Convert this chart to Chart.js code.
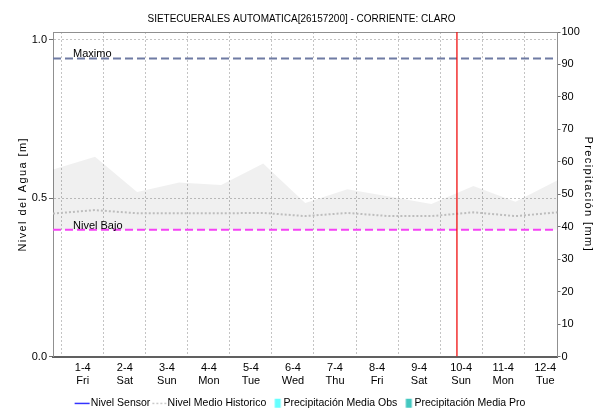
<!DOCTYPE html>
<html><head><meta charset="utf-8">
<script src="https://cdn.jsdelivr.net/npm/chart.js@4.4.1/dist/chart.umd.min.js"></script>
<style>html,body{margin:0;padding:0;background:#fff;overflow:hidden}#wrap{width:603px;height:412px;position:relative}</style>
</head><body><div id="wrap"><canvas id="c" width="603" height="412"></canvas></div>
<script>
// ---------- data ----------
const chartTitle = 'SIETECUERALES AUTOMATICA[26157200] - CORRIENTE: CLARO';
const dayTicks = [0, 1, 2, 3, 4, 5, 6, 7, 8, 9, 10, 11];           // days since 1-4 00:00
const dayLabels = ['1-4', '2-4', '3-4', '4-4', '5-4', '6-4', '7-4', '8-4', '9-4', '10-4', '11-4', '12-4'];
const weekdayLabels = ['Fri', 'Sat', 'Sun', 'Mon', 'Tue', 'Wed', 'Thu', 'Fri', 'Sat', 'Sun', 'Mon', 'Tue'];
const xStart = -0.708;   // 31-3 07:00
const xEnd = 11.292;     // 12-4 07:00
const sampleDays = [-0.708, 0.292, 1.292, 2.292, 3.292, 4.292, 5.292, 6.292, 7.292, 8.292, 9.292, 10.292, 11.292];
const bandUpper = [0.590, 0.630, 0.519, 0.549, 0.541, 0.609, 0.484, 0.528, 0.505, 0.481, 0.538, 0.488, 0.556];
const bandLower = [0.400, 0.400, 0.400, 0.400, 0.400, 0.400, 0.400, 0.400, 0.400, 0.400, 0.400, 0.400, 0.400];
const nivelMedio = [0.451, 0.462, 0.452, 0.452, 0.452, 0.453, 0.443, 0.453, 0.443, 0.443, 0.455, 0.443, 0.455];
const nivelSensor = [];
const precipObs = [];
const precipPro = [];
const nivelMaximo = 0.94;
const nivelBajo = 0.40;
const nowDay = 8.9;
const yLeftMax = 1.024;
const yLeftTicks = [0, 0.5, 1.0];
const yRightMax = 100;
const yRightTicks = [0, 10, 20, 30, 40, 50, 60, 70, 80, 90, 100];
const legendLabels = ['Nivel Sensor', 'Nivel Medio Historico', 'Precipitación Media Obs', 'Precipitación Media Pro'];
const thresholdLabels = ['Maximo', 'Nivel Bajo'];

const FONT = "'Liberation Sans', Arial, Helvetica, sans-serif";
Chart.defaults.font.family = FONT;
Chart.defaults.font.size = 11;
Chart.defaults.color = '#000';

// axis titles in the reference are letter-spaced
const origDrawTitle = Chart.LinearScale.prototype.drawTitle;
Chart.LinearScale.prototype.drawTitle = function () {
  const ctx = this.ctx;
  ctx.save();
  try { ctx.letterSpacing = '1.4px'; } catch (e) {}
  origDrawTitle.apply(this, arguments);
  ctx.restore();
};

const pts = (xs, ys) => xs.map((x, i) => ({x: x, y: ys[i]}));

// legend marks
function mark(kind, color) {
  const c = document.createElement('canvas');
  c.width = 34; c.height = 11;
  const g = c.getContext('2d');
  g.fillStyle = color;
  if (kind === 'line') g.fillRect(10, 5, 15, 1.2);
  else if (kind === 'dots') { [11, 15, 19, 23].forEach(x => g.fillRect(x, 5, 2, 1.2)); }
  else g.fillRect(17.5, 1, 6, 9);
  return c;
}
const legendMarks = [mark('line', '#0000ff'), mark('dots', '#bdbdbd'), mark('rect', '#66ffff'), mark('rect', '#44c8c0')];

const labelPlugin = {
  id: 'thresholdLabels',
  afterDatasetsDraw(chart) {
    const {ctx, chartArea, scales} = chart;
    ctx.save();
    ctx.font = '11px ' + FONT;
    ctx.fillStyle = '#000';
    ctx.textBaseline = 'middle';
    ctx.textAlign = 'left';
    ctx.fillText(thresholdLabels[0], chartArea.left + 20, scales.y.getPixelForValue(nivelMaximo) - 5);
    ctx.fillText(thresholdLabels[1], chartArea.left + 20, scales.y.getPixelForValue(nivelBajo) - 4);
    ctx.restore();
  }
};

new Chart(document.getElementById('c'), {
  type: 'line',
  data: {
    datasets: [
      {label: 'lower', data: pts(sampleDays, bandLower), borderWidth: 0, pointRadius: 0, fill: false, order: 10},
      {label: 'upper', data: pts(sampleDays, bandUpper), borderWidth: 0, pointRadius: 0, fill: '-1', backgroundColor: 'rgba(0,0,0,0.06)', order: 9},
      {label: legendLabels[1], data: pts(sampleDays, nivelMedio), borderColor: '#bdbdbd', borderWidth: 2, borderDash: [2, 2], pointRadius: 0, fill: false, order: 8},
      {label: 'Maximo', data: [{x: xStart, y: nivelMaximo}, {x: xEnd, y: nivelMaximo}], borderColor: '#6f7ba3', borderWidth: 2, borderDash: [8, 4], pointRadius: 0, order: 5},
      {label: 'Nivel Bajo', data: [{x: xStart, y: nivelBajo}, {x: xEnd, y: nivelBajo}], borderColor: '#f542f5', borderWidth: 2, borderDash: [8, 4], pointRadius: 0, order: 5},
      {label: 'now', data: [{x: nowDay, y: 0}, {x: nowDay, y: yLeftMax}], borderColor: '#f01010', borderWidth: 1.3, pointRadius: 0, order: 1},
      {label: legendLabels[0], data: nivelSensor, borderColor: '#0000ff', borderWidth: 1, pointRadius: 0, order: 2},
      {type: 'bar', label: legendLabels[2], data: precipObs, backgroundColor: '#66ffff', yAxisID: 'y1', order: 3},
      {type: 'bar', label: legendLabels[3], data: precipPro, backgroundColor: '#44c8c0', yAxisID: 'y1', order: 3}
    ]
  },
  options: {
    responsive: false,
    animation: false,
    devicePixelRatio: 1,
    layout: {padding: {top: 0, left: 0, right: 0, bottom: -6.5}},
    plugins: {
      title: {display: true, text: chartTitle, font: {size: 10, weight: 'normal'}, color: '#000', padding: {top: 12.8, bottom: 7.2}},
      tooltip: {enabled: false},
      legend: {
        display: true, position: 'bottom',
        labels: {
          usePointStyle: true, pointStyleWidth: 8, boxHeight: 11, padding: 4,
          font: {size: 10.5}, color: '#000',
          generateLabels: () => legendLabels.map((t, i) => ({
            text: t, pointStyle: legendMarks[i], fillStyle: 'rgba(0,0,0,0)', strokeStyle: 'rgba(0,0,0,0)', lineWidth: 0, hidden: false,
            datasetIndex: [6, 2, 7, 8][i], fontColor: '#000'
          }))
        }
      }
    },
    scales: {
      x: {
        type: 'linear', position: 'bottom', min: xStart, max: xEnd, offset: false,
        afterBuildTicks: s => { s.ticks = dayTicks.map(v => ({value: v})); },
        afterFit: s => { s.height = 37.5; },
        ticks: {padding: 5, maxRotation: 0, autoSkip: false, font: {size: 11}, color: '#000',
          callback: v => { const i = dayTicks.indexOf(v); return i < 0 ? '' : [dayLabels[i], weekdayLabels[i]]; }},
        grid: {color: '#c4c4c4', drawTicks: false, lineWidth: 1},
        border: {color: '#606060', width: 2, dash: [2, 2]}
      },
      x2: {
        type: 'linear', position: 'top', min: xStart, max: xEnd, offset: false,
        ticks: {display: false}, grid: {display: false, drawTicks: false},
        afterFit: s => { s.height = 0; },
        border: {color: '#909090', width: 1}
      },
      y: {
        position: 'left', min: 0, max: yLeftMax,
        afterBuildTicks: s => { s.ticks = yLeftTicks.map(v => ({value: v})); },
        afterFit: s => { s.width = 53; },
        ticks: {padding: 2, font: {size: 11}, color: '#000', callback: v => v.toFixed(1)},
        grid: {color: c => (c.tick && c.tick.value === 0) ? 'rgba(0,0,0,0)' : '#c4c4c4', tickLength: 4, tickColor: '#707070', tickBorderDash: []},
        border: {color: '#909090', width: 1, dash: [2, 2]},
        title: {display: true, text: 'Nivel del Agua [m]', font: {size: 11}, color: '#000', padding: {top: 16.4, bottom: 0}}
      },
      y1: {
        position: 'right', min: 0, max: yRightMax,
        afterBuildTicks: s => { s.ticks = yRightTicks.map(v => ({value: v})); },
        afterFit: s => { s.width = 45.5; },
        ticks: {padding: 1, font: {size: 11}, color: '#000'},
        grid: {drawOnChartArea: false, tickLength: 3, tickColor: '#707070'},
        border: {color: '#909090', width: 1},
        title: {display: true, text: 'Precipitación [mm]', font: {size: 11}, color: '#000', padding: {top: 8.4, bottom: 0}}
      }
    }
  },
  plugins: [labelPlugin]
});
</script>
</body></html>
